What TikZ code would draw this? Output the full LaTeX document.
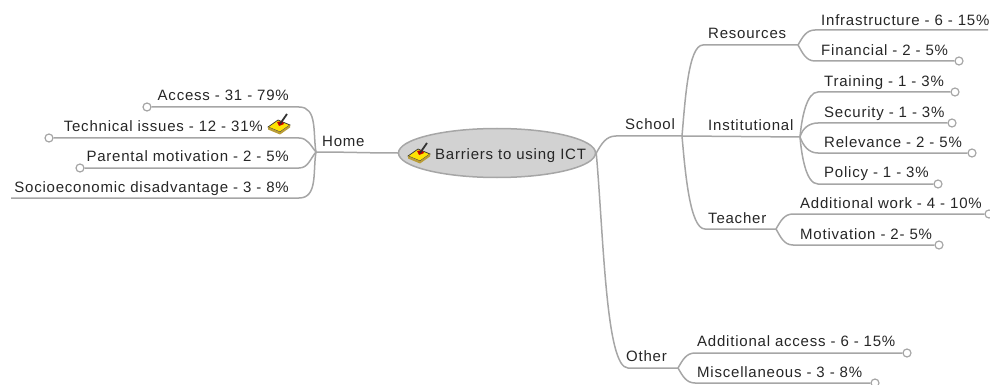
\documentclass[tikz,border=0pt]{standalone}
\usepackage{fontspec}
\setmainfont[LetterSpace=5.2]{Liberation Sans}
\usetikzlibrary{calc,shapes.geometric}
\definecolor{linegray}{HTML}{A6A6A6}
\definecolor{rootgray}{HTML}{D2D2D2}
\tikzstyle{root}=[ellipse,draw=linegray,fill=rootgray,line width=1.5pt,minimum width=197pt,minimum height=49pt,inner sep=0pt]
\tikzstyle{topic}=[anchor=west,inner sep=0pt,text=black!85,text height=13pt,text depth=2pt,font=\fontsize{15pt}{17pt}\selectfont]
\tikzstyle{tip}=[circle,draw=linegray,fill=white,line width=1.2pt,minimum size=8pt,inner sep=0pt]
\tikzstyle{branch}=[draw=linegray,line width=1.5pt]
\tikzset{
	brush/.pic={
		\fill[yellow!85!orange,draw=black!80,line width=0.7pt] (-11,3) -- (-1,-4) -- (11,1) -- (1,8) -- cycle;
		\fill[yellow!60!orange!70!black] (-11,3) -- (1,8) -- (11,1) -- (11,3.5) -- (1,10.5) -- (-11,5.5) -- cycle;
		\fill[red!80!black] (-2,-2) -- (3,-3) -- (5,0) -- (0,2) -- cycle;
		\draw[black!80,line width=1.8pt] (1,0) -- (8,-10);
	}
}

\begin{document}
\begin{tikzpicture}[x=1pt,y=-1pt]
	\useasboundingbox (0,0) rectangle (990,385);

	\node[root] (barriers) at (497,153) {};
	\node[topic] (barriersText) at (435,154) {Barriers to using ICT};
	\pic at (419,153) {brush};

	% left side
	\coordinate (homeHub) at (316,152);
	\coordinate (homeKnee) at (299,152);
	\node[tip] (accessEnd) at (147,107) {};
	\node[tip] (technicalEnd) at (49,138) {};
	\node[tip] (parentalEnd) at (80,168) {};
	\coordinate (socioEnd) at (11,198);

	\node[topic] (home) at (322,141) {Home};
	\node[topic,anchor=east] (access) at (289,95) {Access - 31 - 79\%};
	\node[topic,anchor=east] (technical) at (263,126) {Technical issues - 12 - 31\%};
	\pic at (279,124) {brush};
	\node[topic,anchor=east] (parental) at (289,156) {Parental motivation - 2 - 5\%};
	\node[topic,anchor=east] (socio) at (289,187) {Socioeconomic disadvantage - 3 - 8\%};

	\draw[branch] (barriers.west) to[out=180,in=0] (homeHub);
	\draw[branch] (homeHub) to[out=100,in=0] (accessEnd -| homeKnee) -- (accessEnd);
	\draw[branch] (homeHub) to[out=130,in=0] (technicalEnd -| homeKnee) -- (technicalEnd);
	\draw[branch] (homeHub) to[out=230,in=0] (parentalEnd -| homeKnee) -- (parentalEnd);
	\draw[branch] (homeHub) to[out=260,in=0] (socioEnd -| homeKnee) -- (socioEnd);

	% right side
	\coordinate (schoolHub) at (682,136);
	\coordinate (resourcesHub) at (798,45);
	\coordinate (institutionalHub) at (800,137);
	\coordinate (teacherHub) at (776,229);
	\coordinate (otherHub) at (678,368);

	\node[topic] (school) at (625,124) {School};
	\node[topic] (resources) at (708,33) {Resources};
	\node[topic] (institutional) at (708,125) {Institutional};
	\node[topic] (teacher) at (708,218) {Teacher};
	\node[topic] (other) at (626,356) {Other};

	\draw[branch] (barriers.east) to[out=60,in=180] (616,136) -- (schoolHub);
	\draw[branch] (barriers.east) to[out=-85,in=180,in looseness=.26] (628,368) -- (otherHub);
	\draw[branch] (schoolHub) to[out=85,in=180,in looseness=.4] (703,45) -- (resourcesHub);
	\draw[branch] (schoolHub) -- (institutionalHub);
	\draw[branch] (schoolHub) to[out=-85,in=180,in looseness=.4] (705,229) -- (teacherHub);

	% resources
	\coordinate (infrastructureEnd) at (988,30);
	\node[tip] (financialEnd) at (959,61) {};
	\node[topic] (infrastructure) at (821,20) {Infrastructure - 6 - 15\%};
	\node[topic] (financial) at (821,50) {Financial - 2 - 5\%};
	\draw[branch] (resourcesHub) to[out=60,in=180] (815,30) -- (infrastructureEnd);
	\draw[branch] (resourcesHub) to[out=-60,in=180] (815,61) -- (financialEnd);

	% institutional
	\coordinate (institutionalKnee) at (818,137);
	\node[tip] (trainingEnd) at (955,92) {};
	\node[tip] (securityEnd) at (952,123) {};
	\node[tip] (relevanceEnd) at (972,153) {};
	\node[tip] (policyEnd) at (938,184) {};
	\node[topic] (training) at (824,81) {Training - 1 - 3\%};
	\node[topic] (security) at (824,112) {Security - 1 - 3\%};
	\node[topic] (relevance) at (824,142) {Relevance - 2 - 5\%};
	\node[topic] (policy) at (824,172) {Policy - 1 - 3\%};
	\draw[branch] (institutionalHub) to[out=85,in=180,in looseness=.6] (trainingEnd -| institutionalKnee) -- (trainingEnd);
	\draw[branch] (institutionalHub) to[out=75,in=180] (securityEnd -| institutionalKnee) -- (securityEnd);
	\draw[branch] (institutionalHub) to[out=-70,in=180] (relevanceEnd -| institutionalKnee) -- (relevanceEnd);
	\draw[branch] (institutionalHub) to[out=-85,in=180,in looseness=.6] (policyEnd -| institutionalKnee) -- (policyEnd);

	% teacher
	\node[tip] (workEnd) at (989,214) {};
	\node[tip] (motivationEnd) at (939,245) {};
	\node[topic] (work) at (800,203) {Additional work - 4 - 10\%};
	\node[topic] (motivation) at (800,234) {Motivation - 2- 5\%};
	\draw[branch] (teacherHub) to[out=60,in=180] (793,214) -- (workEnd);
	\draw[branch] (teacherHub) to[out=-60,in=180] (793,245) -- (motivationEnd);

	% other
	\node[tip] (accessMoreEnd) at (907,353) {};
	\node[tip] (miscEnd) at (875,383) {};
	\node[topic] (accessMore) at (697,341) {Additional access - 6 - 15\%};
	\node[topic] (misc) at (697,372) {Miscellaneous - 3 - 8\%};
	\draw[branch] (otherHub) to[out=60,in=180] (695,353) -- (accessMoreEnd);
	\draw[branch] (otherHub) to[out=-60,in=180] (695,383) -- (miscEnd);
\end{tikzpicture}
\end{document}
